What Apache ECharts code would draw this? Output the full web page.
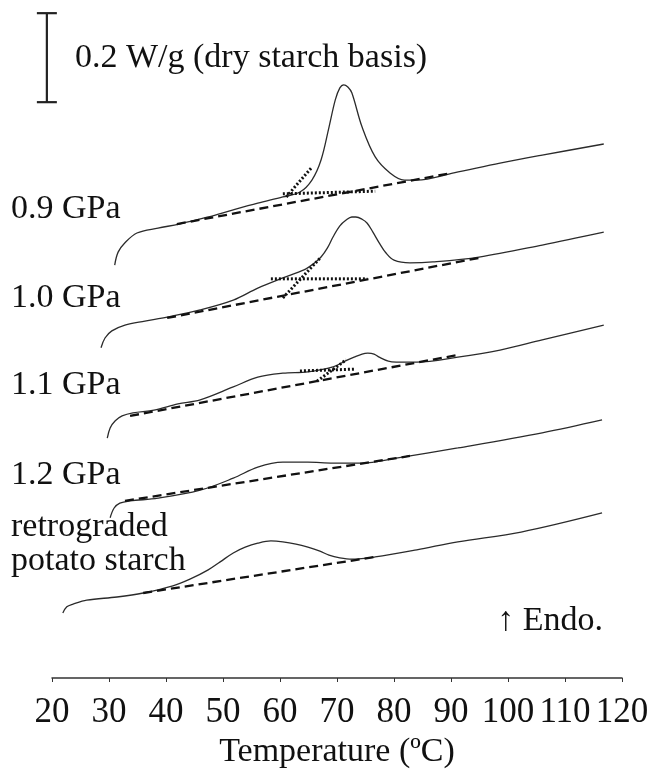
<!DOCTYPE html>
<html>
<head>
<meta charset="utf-8">
<title>DSC thermograms</title>
<script src="https://cdn.jsdelivr.net/npm/echarts@6/dist/echarts.min.js"></script>
<style>
  html, body { margin: 0; padding: 0; background: #fff; }
  #chart { width: 650px; height: 770px; }
</style>
</head>
<body>
<div id="chart"></div>
<script>
// Heat-flow traces (W/g, dry starch basis, vertically offset) against temperature (°C)
const t09 = [31.0, 31.6, 32.8, 34.9, 38.6, 42.3, 47.4, 51.8, 56.1, 60.5, 63.5, 65.6, 67.2, 68.6, 69.7, 70.5, 71.2, 71.9, 72.6, 74.4, 76.7, 79.3, 81.8, 84.0, 90.5, 98.6, 106.0, 116.8];
const q09 = [0.928, 0.957, 0.978, 1.000, 1.011, 1.020, 1.036, 1.052, 1.067, 1.081, 1.092, 1.119, 1.164, 1.238, 1.299, 1.326, 1.333, 1.328, 1.315, 1.238, 1.171, 1.135, 1.119, 1.119, 1.135, 1.157, 1.175, 1.200];

const t10 = [28.6, 29.3, 30.5, 32.8, 36.3, 40.2, 46.0, 51.8, 56.1, 60.5, 64.2, 66.1, 67.2, 68.3, 69.3, 70.5, 71.6, 72.6, 73.3, 74.4, 75.3, 76.3, 77.4, 78.6, 80.0, 82.8, 86.8, 94.9, 106.0, 116.8];
const q10 = [0.742, 0.764, 0.780, 0.793, 0.802, 0.811, 0.827, 0.849, 0.876, 0.899, 0.917, 0.933, 0.946, 0.966, 0.991, 1.016, 1.029, 1.036, 1.036, 1.031, 1.022, 1.002, 0.978, 0.955, 0.939, 0.933, 0.935, 0.946, 0.973, 1.002];

const t11 = [29.7, 30.2, 31.1, 32.3, 34.2, 37.9, 42.1, 46.0, 51.8, 56.1, 60.5, 64.9, 69.3, 71.4, 73.0, 74.4, 75.4, 76.5, 77.4, 79.0, 80.4, 84.0, 91.2, 98.6, 106.0, 116.8];
const q11 = [0.539, 0.562, 0.578, 0.589, 0.596, 0.602, 0.616, 0.625, 0.654, 0.676, 0.685, 0.688, 0.699, 0.712, 0.721, 0.728, 0.730, 0.728, 0.721, 0.712, 0.710, 0.710, 0.721, 0.737, 0.760, 0.793];

const t12 = [30.2, 30.9, 31.9, 33.7, 38.6, 46.0, 51.8, 56.1, 60.5, 64.9, 69.3, 74.4, 80.4, 91.2, 106.0, 116.5];
const q12 = [0.360, 0.382, 0.393, 0.398, 0.404, 0.422, 0.449, 0.474, 0.485, 0.485, 0.483, 0.483, 0.494, 0.517, 0.551, 0.580];

const tRetro = [21.9, 22.6, 23.7, 26.1, 31.4, 36.0, 41.2, 44.2, 47.4, 49.5, 51.8, 53.9, 56.1, 58.4, 60.5, 62.8, 64.9, 67.0, 68.6, 70.5, 72.6, 76.7, 84.0, 91.2, 102.3, 116.5];
const qRetro = [0.146, 0.160, 0.166, 0.175, 0.182, 0.191, 0.207, 0.222, 0.243, 0.261, 0.281, 0.294, 0.303, 0.308, 0.306, 0.301, 0.294, 0.285, 0.276, 0.270, 0.267, 0.272, 0.288, 0.306, 0.328, 0.371];

// Integration baselines (dashed): [T, q] end points
const base09 = [[41.9, 1.020], [90.2, 1.135]];
const base10 = [[40.2, 0.809], [94.9, 0.944]];
const base11 = [[33.7, 0.589], [91.2, 0.726]];
const base12 = [[32.8, 0.398], [82.8, 0.499]];
const baseRetro = [[36.0, 0.191], [76.7, 0.272]];

// Onset construction (dotted): extrapolated baseline and leading-edge tangent
const ext09 = [[60.5, 1.088], [76.7, 1.094]];
const tan09 = [[61.1, 1.081], [65.6, 1.148]];
const ext10 = [[58.4, 0.897], [75.3, 0.897]];
const tan10 = [[60.5, 0.854], [67.2, 0.946]];
const ext11 = [[63.5, 0.690], [73.0, 0.694]];
const tan11 = [[66.5, 0.667], [71.6, 0.715]];

// Scale bar: 0.2 W/g
const scaleBarT = 19.1;
const scaleBarTop = 1.494;
const scaleBarSpan = 0.2;

const xTicks = { min: 20, max: 120, step: 10 };

const curveLabels = [
  { text: '0.9 GPa', y: 209 },
  { text: '1.0 GPa', y: 298 },
  { text: '1.1 GPa', y: 385 },
  { text: '1.2 GPa', y: 475 },
  { text: 'retrograded', y: 527 },
  { text: 'potato starch', y: 561 }
];

const FONT = "'Liberation Serif', 'Times New Roman', serif";
const zip = (xs, ys) => xs.map((x, i) => [x, ys[i]]);

const traceStyle = { color: '#2b2b2b', width: 1.3 };
const dashStyle = { color: '#111', width: 2.3, type: [9, 5] };
const dotStyle = { color: '#111', width: 3, type: [2, 2] };

function trace(xs, ys) {
  return { type: 'line', data: zip(xs, ys), smooth: 0.35, showSymbol: false, symbol: 'none',
           lineStyle: traceStyle, silent: true, z: 3 };
}
function segment(pts, style) {
  return { type: 'line', data: pts, showSymbol: false, symbol: 'none', lineStyle: style, silent: true, z: 4 };
}

const chart = echarts.init(document.getElementById('chart'), null, { renderer: 'canvas' });

chart.setOption({
  backgroundColor: '#fff',
  animation: false,
  grid: { left: 52, right: 28, top: 10.5, bottom: 92, containLabel: false, outerBoundsMode: 'none' },
  xAxis: {
    type: 'value',
    min: xTicks.min, max: xTicks.max, interval: xTicks.step,
    name: 'Temperature (ºC)',
    nameLocation: 'middle',
    nameGap: 52,
    nameTextStyle: { fontFamily: FONT, fontSize: 34, color: '#111' },
    axisLine: { show: true, lineStyle: { color: '#333', width: 1.5 } },
    axisTick: { show: true, length: 4, lineStyle: { color: '#333', width: 1 } },
    axisLabel: { fontFamily: FONT, fontSize: 35, color: '#111', margin: 17 },
    splitLine: { show: false }
  },
  yAxis: { type: 'value', min: 0, max: 1.5, show: false },
  series: [
    trace(t09, q09), trace(t10, q10), trace(t11, q11), trace(t12, q12), trace(tRetro, qRetro),
    segment(base09, dashStyle), segment(base10, dashStyle), segment(base11, dashStyle),
    segment(base12, dashStyle), segment(baseRetro, dashStyle),
    segment(ext09, dotStyle), segment(tan09, dotStyle),
    segment(ext10, dotStyle), segment(tan10, dotStyle),
    segment(ext11, dotStyle), segment(tan11, dotStyle),
    {
      type: 'custom',
      clip: false,
      silent: true,
      data: [[scaleBarT, scaleBarTop - scaleBarSpan, scaleBarTop]],
      encode: { x: 0, y: [1, 2] },
      renderItem: function (params, api) {
        const lo = api.coord([api.value(0), api.value(1)]);
        const hi = api.coord([api.value(0), api.value(2)]);
        const half = 10;
        const style = { stroke: '#222', lineWidth: 2.2 };
        return {
          type: 'group',
          children: [
            { type: 'line', shape: { x1: lo[0], y1: lo[1], x2: hi[0], y2: hi[1] }, style },
            { type: 'line', shape: { x1: hi[0] - half, y1: hi[1], x2: hi[0] + half, y2: hi[1] }, style },
            { type: 'line', shape: { x1: lo[0] - half, y1: lo[1], x2: lo[0] + half, y2: lo[1] }, style }
          ]
        };
      }
    }
  ],
  graphic: [
    { type: 'text', left: 75, top: 41,
      style: { text: '0.2 W/g (dry starch basis)', font: '34px ' + FONT, fill: '#111' } },
    ...curveLabels.map(l => ({
      type: 'text', x: 11, y: l.y,
      style: { text: l.text, font: '34px ' + FONT, fill: '#111', verticalAlign: 'middle' }
    })),
    { type: 'text', x: 603, y: 621,
      style: { text: '↑ Endo.', font: '34px ' + FONT, fill: '#111', align: 'right', verticalAlign: 'middle' } }
  ]
});
</script>
</body>
</html>
